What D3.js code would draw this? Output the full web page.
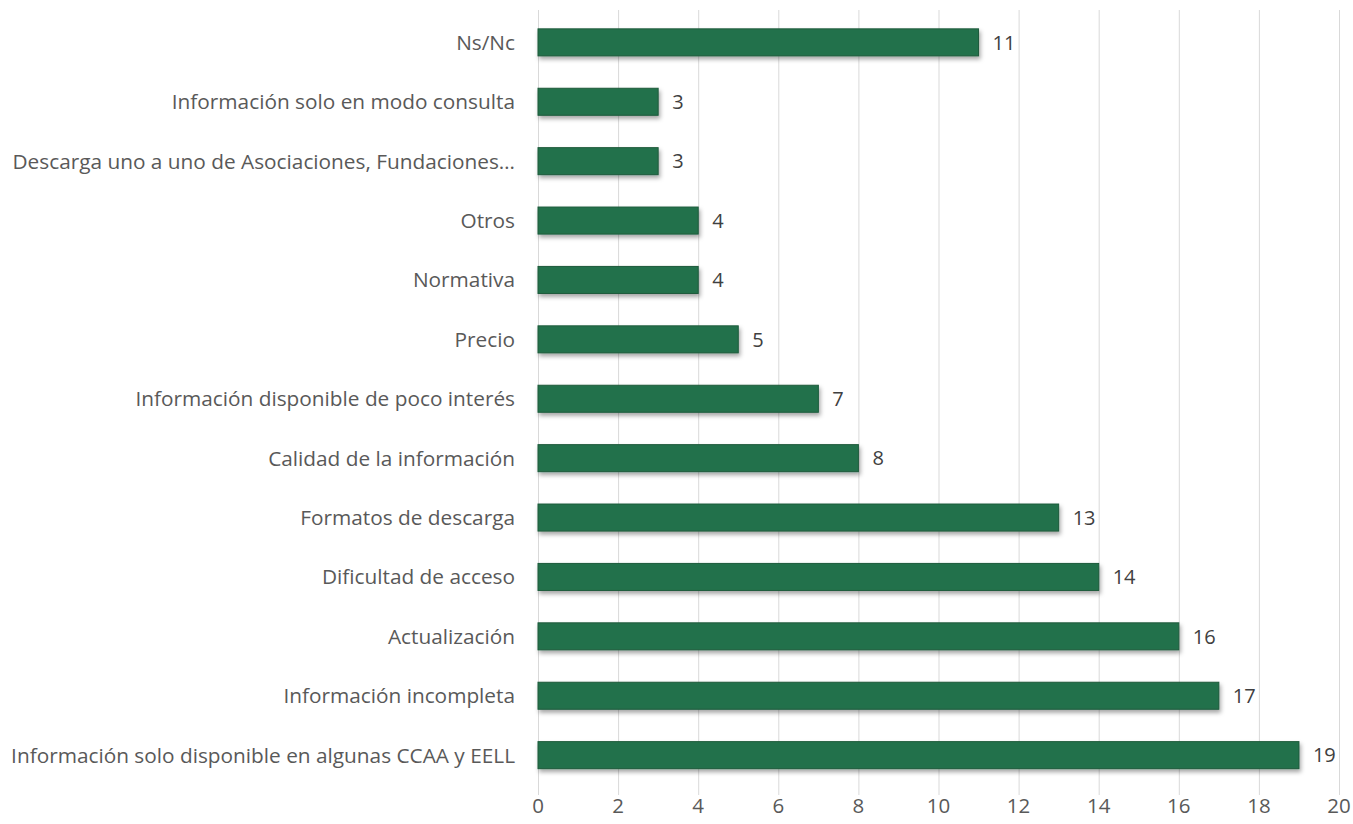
<!DOCTYPE html>
<html><head><meta charset="utf-8">
<script src="https://cdn.jsdelivr.net/npm/d3@7/dist/d3.min.js"></script>
<style>body{margin:0;background:#fff}svg{display:block}</style>
</head><body><svg id="c" width="1353" height="824"></svg>
<script>
const categories = ["Ns/Nc","Información solo en modo consulta","Descarga uno a uno de Asociaciones, Fundaciones…","Otros","Normativa","Precio","Información disponible de poco interés","Calidad de la información","Formatos de descarga","Dificultad de acceso","Actualización","Información incompleta","Información solo disponible en algunas CCAA y EELL"];
const values = [11,3,3,4,4,5,7,8,13,14,16,17,19];
const xTicks = [0,2,4,6,8,10,12,14,16,18,20];

const svg = d3.select("#c");
const font = "'Open Sans', sans-serif";
const x = d3.scaleLinear().domain([0,20]).range([538,1339]);
const y = d3.scaleBand().domain(categories).range([14,783.5]).paddingInner(0.545).paddingOuter(0.25);

const defs = svg.append("defs");
const f = defs.append("filter").attr("id","sh").attr("x","-5%").attr("y","-30%").attr("width","110%").attr("height","180%");
f.append("feDropShadow").attr("dx",1.5).attr("dy",3).attr("stdDeviation",2).attr("flood-color","#000").attr("flood-opacity",0.35);

// gridlines
svg.append("g").selectAll("line").data(xTicks).join("line")
  .attr("x1",d=>x(d)+0.5).attr("x2",d=>x(d)+0.5).attr("y1",10).attr("y2",795)
  .attr("stroke","#d9d9d9").attr("stroke-width",1);

// bars
svg.append("g").selectAll("rect").data(values).join("rect")
  .attr("x",x(0)).attr("y",(d,i)=>y(categories[i]))
  .attr("width",d=>x(d)-x(0)).attr("height",y.bandwidth())
  .attr("fill","#24714b").attr("stroke","#1c5a3b").attr("stroke-width",1)
  .attr("filter","url(#sh)");

// value labels
svg.append("g").selectAll("text").data(values).join("text")
  .attr("x",d=>x(d)+14).attr("y",(d,i)=>y(categories[i])+y.bandwidth()/2)
  .attr("dy","0.36em").attr("font-family",font).attr("font-size",20).attr("fill","#404040")
  .text(d=>d);

// category labels
svg.append("g").selectAll("text").data(categories).join("text")
  .attr("x",515).attr("y",d=>y(d)+y.bandwidth()/2)
  .attr("dy","0.36em").attr("text-anchor","end")
  .attr("font-family",font).attr("font-size",20.8).attr("fill","#595959")
  .text(d=>d);

// x axis tick labels
svg.append("g").selectAll("text").data(xTicks).join("text")
  .attr("x",d=>x(d)).attr("y",806).attr("dy","0.36em").attr("text-anchor","middle")
  .attr("font-family",font).attr("font-size",20.5).attr("fill","#595959")
  .text(d=>d);
</script></body></html>
